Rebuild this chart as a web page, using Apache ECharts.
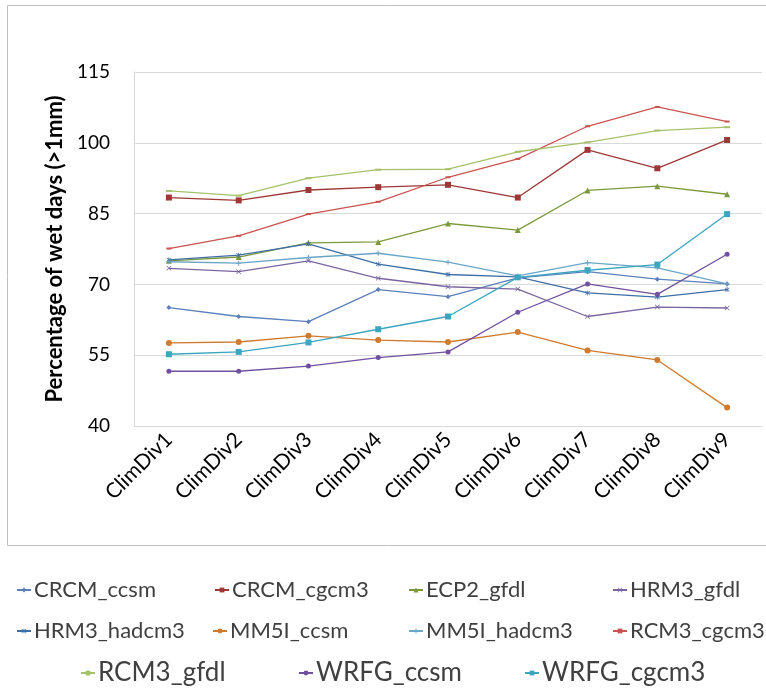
<!DOCTYPE html>
<html>
<head>
<meta charset="utf-8">
<script src="https://cdn.jsdelivr.net/npm/echarts@6/dist/echarts.min.js"></script>
<style>
  html, body { margin: 0; padding: 0; background: #fff; }
  #chart { width: 766px; height: 694px; }
</style>
</head>
<body>
<div id="chart"></div>
<script>
// Climate divisions on the category axis
const categories = ['ClimDiv1', 'ClimDiv2', 'ClimDiv3', 'ClimDiv4', 'ClimDiv5', 'ClimDiv6', 'ClimDiv7', 'ClimDiv8', 'ClimDiv9'];

// Percentage of wet days (>1mm) per model run
const crcmCcsm   = [65.1, 63.2, 62.1, 68.9, 67.4, 71.4, 72.7, 71.1, 70.1];
const crcmCgcm3  = [88.4, 87.8, 90.0, 90.6, 91.1, 88.4, 98.5, 94.6, 100.6];
const ecp2Gfdl   = [75.0, 75.8, 78.8, 79.0, 82.9, 81.5, 89.9, 90.8, 89.1];
const hrm3Gfdl   = [73.4, 72.7, 75.0, 71.3, 69.5, 69.0, 63.2, 65.2, 65.0];
const hrm3Hadcm3 = [75.2, 76.2, 78.6, 74.3, 72.1, 71.6, 68.2, 67.3, 68.9];
const mm5iCcsm   = [57.6, 57.8, 59.1, 58.2, 57.8, 59.9, 56.0, 54.0, 43.9];
const mm5iHadcm3 = [74.8, 74.5, 75.7, 76.6, 74.7, 71.8, 74.6, 73.5, 70.1];
const rcm3Cgcm3  = [77.6, 80.3, 84.9, 87.5, 92.7, 96.6, 103.5, 107.6, 104.5];
const rcm3Gfdl   = [89.8, 88.8, 92.5, 94.3, 94.4, 98.1, 100.1, 102.6, 103.3];
const wrfgCcsm   = [51.6, 51.6, 52.7, 54.5, 55.7, 64.1, 70.1, 67.9, 76.4];
const wrfgCgcm3  = [55.2, 55.7, 57.7, 60.5, 63.2, 71.5, 73.0, 74.2, 84.9];

// Value axis ticks
const yTicks = [40, 55, 70, 85, 100, 115];

const FONT = 'Lato, "Liberation Sans", sans-serif';

// Marker shapes
const SYM_X = 'path://M0,1L1,0L5,4L9,0L10,1L6,5L10,9L9,10L5,6L1,10L0,9L4,5Z';
const SYM_PLUS = 'path://M4,0H6V4H10V6H6V10H4V6H0V4H4Z';
const SYM_STAR = 'path://M4.3,0H5.7V3.6L8.9,0.7L9.9,1.7L6.4,5L9.9,8.3L8.9,9.3L5.7,6.4V10H4.3V6.4L1.1,9.3L0.1,8.3L3.6,5L0.1,1.7L1.1,0.7L4.3,3.6Z';

const seriesDefs = [
  { name: 'CRCM_ccsm',   data: crcmCcsm,   color: '#5b80bb', symbol: 'diamond',  size: 5 },
  { name: 'CRCM_cgcm3',  data: crcmCgcm3,  color: '#9e3836', symbol: 'rect',     size: 6 },
  { name: 'ECP2_gfdl',   data: ecp2Gfdl,   color: '#7c9a3c', symbol: 'triangle', size: 6 },
  { name: 'HRM3_gfdl',   data: hrm3Gfdl,   color: '#7a65a0', symbol: SYM_X,      size: 5 },
  { name: 'HRM3_hadcm3', data: hrm3Hadcm3, color: '#3d6ea6', symbol: SYM_STAR,   size: 5 },
  { name: 'MM5I_ccsm',   data: mm5iCcsm,   color: '#d07a2f', symbol: 'circle',   size: 6 },
  { name: 'MM5I_hadcm3', data: mm5iHadcm3, color: '#6aa6c8', symbol: SYM_PLUS,   size: 5 },
  { name: 'RCM3_cgcm3',  data: rcm3Cgcm3,  color: '#c9534f', symbol: 'rect',     size: [5, 2] },
  { name: 'RCM3_gfdl',   data: rcm3Gfdl,   color: '#a5c26b', symbol: 'rect',     size: [6, 2] },
  { name: 'WRFG_ccsm',   data: wrfgCcsm,   color: '#7050a0', symbol: 'circle',   size: 5 },
  { name: 'WRFG_cgcm3',  data: wrfgCgcm3,  color: '#3aa6bf', symbol: 'rect',     size: 6 }
];

// Legend placement: three rows of entries
const legendSlots = [
  [16, 593, 22], [214, 593, 22], [408, 593, 22], [612, 593, 22],
  [16, 634, 22], [212, 634, 22], [408, 634, 22], [612, 634, 22],
  [80, 676, 26], [298, 676, 26], [524, 676, 26]
];

const legends = seriesDefs.map((s, i) => ({
  data: [s.name],
  left: legendSlots[i][0],
  top: legendSlots[i][1] - (legendSlots[i][2] >= 25 ? 16 : 14),
  itemWidth: 14,
  itemHeight: 6,
  itemGap: 0,
  padding: 0,
  textStyle: { fontFamily: FONT, fontSize: legendSlots[i][2], color: '#404040', padding: [0, 0, 0, -2] }
}));

const chart = echarts.init(document.getElementById('chart'), null, { renderer: 'canvas' });

chart.setOption({
  backgroundColor: '#ffffff',
  animation: false,
  graphic: [{
    type: 'rect',
    shape: { x: 7.5, y: 5.5, width: 800, height: 540 },
    style: { fill: 'none', stroke: '#bfbfbf', lineWidth: 1 },
    silent: true,
    z: -1
  }],
  legend: legends,
  grid: { left: 134, right: 4, top: 72, bottom: 268, containLabel: false },
  xAxis: {
    type: 'category',
    data: categories,
    boundaryGap: true,
    axisLine: { show: true, lineStyle: { color: '#d9d9d9', width: 1 } },
    axisTick: { show: false },
    axisLabel: {
      rotate: 45,
      margin: 10,
      fontFamily: FONT,
      fontSize: 21,
      color: '#000'
    }
  },
  yAxis: {
    type: 'value',
    min: yTicks[0],
    max: yTicks[yTicks.length - 1],
    interval: 15,
    name: 'Percentage of wet days (>1mm)',
    nameLocation: 'middle',
    nameGap: 62,
    nameTextStyle: { fontFamily: FONT, fontSize: 22, fontWeight: 'bold', color: '#000' },
    axisLine: { show: true, lineStyle: { color: '#d9d9d9', width: 1 } },
    axisTick: { show: false },
    axisLabel: { fontFamily: FONT, fontSize: 19, color: '#000', margin: 24 },
    splitLine: { lineStyle: { color: '#d9d9d9', width: 1 } }
  },
  series: seriesDefs.map(s => ({
    name: s.name,
    type: 'line',
    data: s.data,
    symbol: s.symbol,
    symbolSize: s.size,
    showSymbol: true,
    lineStyle: { color: s.color, width: 1.3 },
    itemStyle: { color: s.color },
    emphasis: { disabled: true }
  }))
});
</script>
</body>
</html>
